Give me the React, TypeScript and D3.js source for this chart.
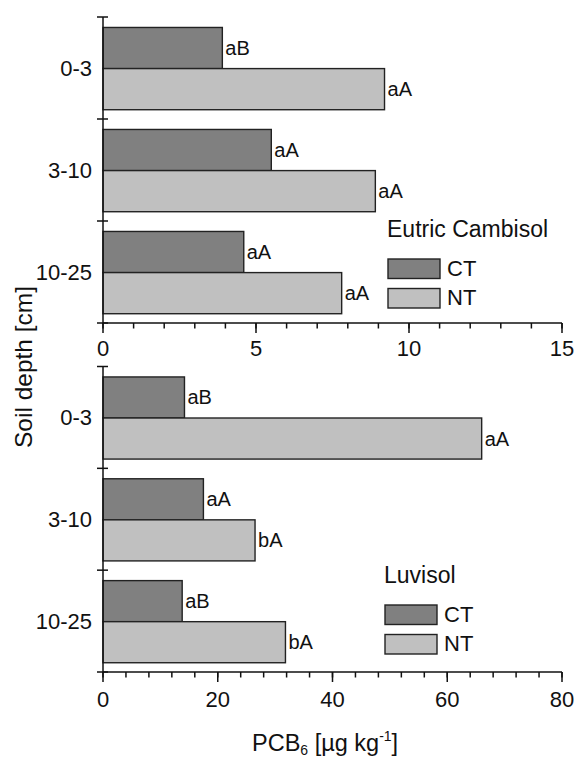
import React from "react";
import * as d3 from "d3";

// Soil depth classes (cm)
const depths = ["0-3", "3-10", "10-25"];
const treatments = ["CT", "NT"];

// PCB6 concentrations, Eutric Cambisol
const cambisolCT = [3.9, 5.5, 4.6];
const cambisolNT = [9.2, 8.9, 7.8];
const cambisolCTLetters = ["aB", "aA", "aA"];
const cambisolNTLetters = ["aA", "aA", "aA"];
const cambisolTicks = [0, 5, 10, 15];

// PCB6 concentrations, Luvisol
const luvisolCT = [14.2, 17.5, 13.8];
const luvisolNT = [66, 26.5, 31.8];
const luvisolCTLetters = ["aB", "aA", "aB"];
const luvisolNTLetters = ["aA", "bA", "bA"];
const luvisolTicks = [0, 20, 40, 60, 80];

const FONT = "'Liberation Sans', Arial, Helvetica, sans-serif";
const FILL: Record<string, string> = { CT: "#808080", NT: "#c0c0c0" };
const STROKE = "#222";

type PanelProps = {
  top: number;
  bottom: number;
  left: number;
  right: number;
  ct: number[];
  nt: number[];
  ctLetters: string[];
  ntLetters: string[];
  ticks: number[];
  minorStep: number;
  labelOffset: number;
  title: string;
  legendX: number;
  legendTitleY: number;
};

function Panel(p: PanelProps) {
  const x = d3
    .scaleLinear()
    .domain([p.ticks[0], p.ticks[p.ticks.length - 1]])
    .range([p.left, p.right]);
  const y = d3.scaleBand<string>().domain(depths).range([p.top, p.bottom]).paddingInner(0);
  const sub = d3
    .scaleBand<string>()
    .domain(treatments)
    .range([0, y.bandwidth()])
    .paddingInner(0)
    .paddingOuter(0.24)
    .align(0.53);
  const minor = d3.range(p.ticks[0], p.ticks[p.ticks.length - 1] + 1e-9, p.minorStep);
  const series: Record<string, { v: number[]; l: string[] }> = {
    CT: { v: p.ct, l: p.ctLetters },
    NT: { v: p.nt, l: p.ntLetters },
  };
  const yTickPos = [...depths.map((d) => y(d)!), p.bottom];
  return (
    <g>
      {depths.map((d, i) =>
        treatments.map((t) => {
          const v = series[t].v[i];
          const y0 = y(d)! + sub(t)!;
          const h = sub.bandwidth();
          return (
            <g key={d + t}>
              <rect
                x={x(0)}
                y={y0}
                width={x(v) - x(0)}
                height={h}
                fill={FILL[t]}
                stroke={STROKE}
                strokeWidth={1.4}
              />
              <text
                x={x(v) + 3}
                y={y0 + h / 2}
                dy="0.35em"
                fontSize={20}
                fontFamily={FONT}
                fill="#111"
              >
                {series[t].l[i]}
              </text>
            </g>
          );
        })
      )}
      {/* y axis */}
      <line x1={p.left} x2={p.left} y1={p.top} y2={p.bottom} stroke="#111" strokeWidth={1.5} />
      {yTickPos.map((yy, i) => (
        <line key={"yt" + i} x1={p.left - 6} x2={p.left + 5} y1={yy} y2={yy} stroke="#111" strokeWidth={1.5} />
      ))}
      {depths.map((d) => (
        <text
          key={"yl" + d}
          x={p.left - 11}
          y={y(d)! + y.bandwidth() / 2}
          dy="0.35em"
          textAnchor="end"
          fontSize={22}
          fontFamily={FONT}
          fill="#111"
        >
          {d}
        </text>
      ))}
      {/* x axis */}
      <line x1={p.left} x2={p.right} y1={p.bottom} y2={p.bottom} stroke="#111" strokeWidth={1.5} />
      {minor.map((v) => (
        <line
          key={"mx" + v}
          x1={x(v)}
          x2={x(v)}
          y1={p.bottom}
          y2={p.bottom + 5.5}
          stroke="#111"
          strokeWidth={1.5}
        />
      ))}
      {p.ticks.map((v) => (
        <g key={"tx" + v}>
          <line x1={x(v)} x2={x(v)} y1={p.bottom} y2={p.bottom + 10} stroke="#111" strokeWidth={1.5} />
          <text
            x={x(v)}
            y={p.bottom + p.labelOffset}
            textAnchor="middle"
            fontSize={22}
            fontFamily={FONT}
            fill="#111"
          >
            {v}
          </text>
        </g>
      ))}
      {/* legend */}
      <text x={p.legendX} y={p.legendTitleY} fontSize={23} fontFamily={FONT} fill="#111">
        {p.title}
      </text>
      {treatments.map((t, i) => {
        const by = p.legendTitleY + 22.5 + i * 29.5;
        return (
          <g key={"lg" + t}>
            <rect x={p.legendX + 1} y={by} width={52} height={19.5} fill={FILL[t]} stroke={STROKE} strokeWidth={1.4} />
            <text x={p.legendX + 60} y={by + 16.5} fontSize={22} fontFamily={FONT} fill="#111">
              {t}
            </text>
          </g>
        );
      })}
    </g>
  );
}

export default function App() {
  const left = 103;
  const right = 562;
  return (
    <svg
      width={575}
      height={760}
      viewBox="0 0 575 760"
      style={{ position: "absolute", left: 0, top: 0, background: "#fff" }}
    >
      <rect x={0} y={0} width={575} height={760} fill="#fff" />
      <Panel
        top={17}
        bottom={323}
        left={left}
        right={right}
        ct={cambisolCT}
        nt={cambisolNT}
        ctLetters={cambisolCTLetters}
        ntLetters={cambisolNTLetters}
        ticks={cambisolTicks}
        minorStep={1}
        labelOffset={32.5}
        title="Eutric Cambisol"
        legendX={387}
        legendTitleY={236.5}
      />
      <Panel
        top={366.5}
        bottom={672}
        left={left}
        right={right}
        ct={luvisolCT}
        nt={luvisolNT}
        ctLetters={luvisolCTLetters}
        ntLetters={luvisolNTLetters}
        ticks={luvisolTicks}
        minorStep={4}
        labelOffset={34.5}
        title="Luvisol"
        legendX={384}
        legendTitleY={582.5}
      />
      <text
        transform="translate(32,367) rotate(-90)"
        textAnchor="middle"
        fontSize={24.5}
        fontFamily={FONT}
        fill="#111"
      >
        Soil depth [cm]
      </text>
      <text x={252} y={751} fontSize={23.5} fontFamily={FONT} fill="#111">
        PCB
        <tspan fontSize={14} dy={4}>6</tspan>
        <tspan dy={-4}> [µg kg</tspan>
        <tspan fontSize={14} dy={-10}>-1</tspan>
        <tspan dy={10}>]</tspan>
      </text>
    </svg>
  );
}
